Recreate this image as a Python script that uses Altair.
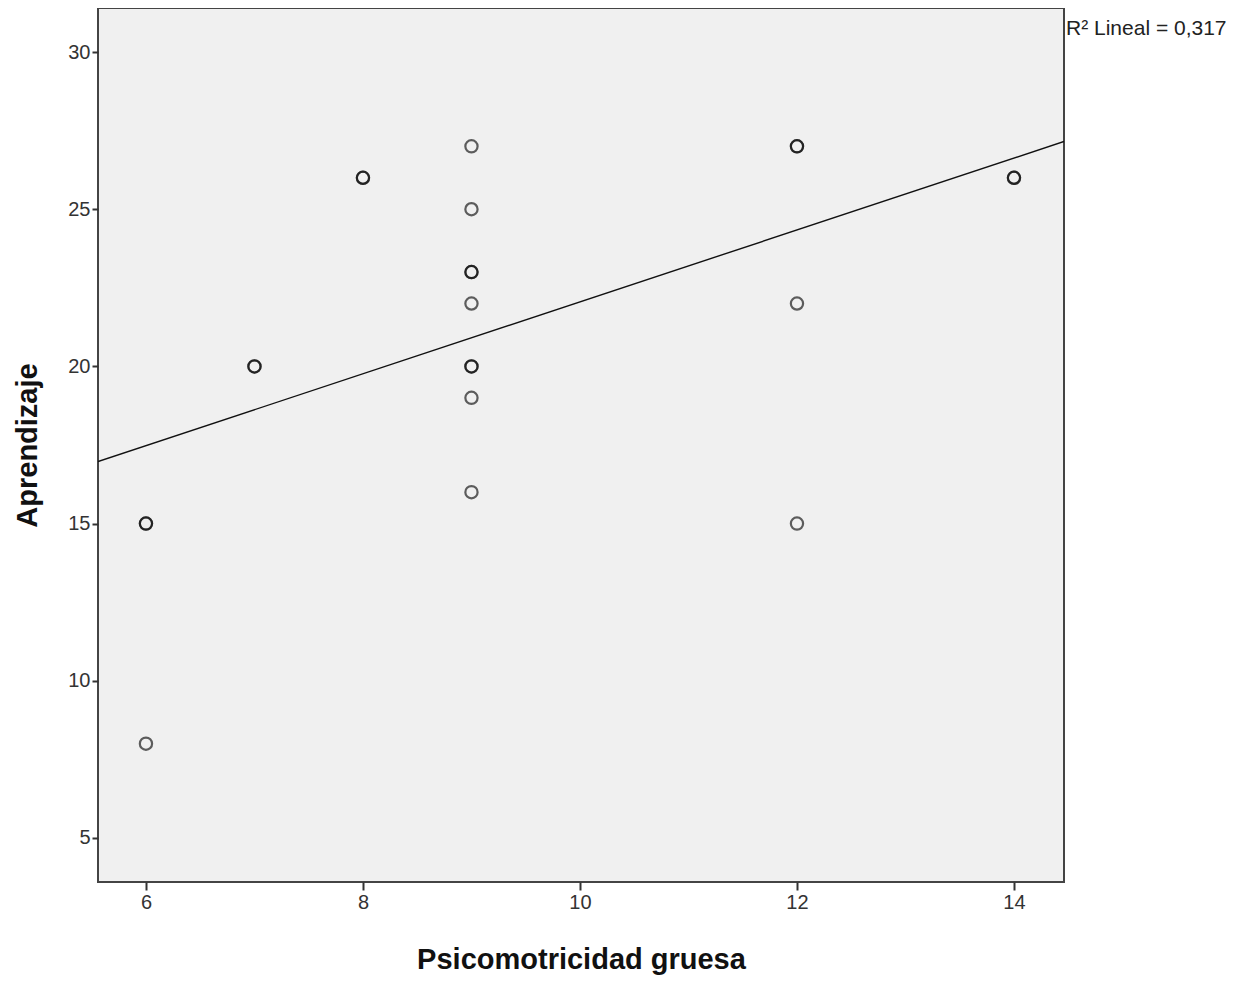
import altair as alt
import pandas as pd

# Psicomotricidad gruesa (x) and Aprendizaje (y); darker circles are repeated cases
psico = [6, 6, 6, 7, 7, 8, 8, 9, 9, 9, 9, 9, 9, 9, 9, 9, 12, 12, 12, 12, 14, 14]
aprend = [15, 15, 8, 20, 20, 26, 26, 27, 25, 23, 23, 22, 20, 20, 19, 16, 27, 27, 22, 15, 26, 26]

x_ticks = [6, 8, 10, 12, 14]
y_ticks = [5, 10, 15, 20, 25, 30]
x_domain = [5.558, 14.461]
y_domain = [3.60, 31.40]
r2_label = "R\u00b2 Lineal = 0,317"

df = pd.DataFrame({"x": psico, "y": aprend})

font = "Liberation Sans"

xs = alt.Scale(domain=x_domain, nice=False, zero=False)
ys = alt.Scale(domain=y_domain, nice=False, zero=False)

x_axis = alt.Axis(
    values=x_ticks, format="d", title="Psicomotricidad gruesa", grid=False, domain=False,
    tickSize=8, tickWidth=2, tickColor="#333", labelFontSize=20, labelColor="#333",
    labelFont=font, labelPadding=2, titleFont=font, titleFontSize=29,
    titleFontWeight="bold", titleColor="#111", titlePadding=33,
)
y_axis = alt.Axis(
    values=y_ticks, format="d", title="Aprendizaje", grid=False, domain=False,
    tickSize=6, tickWidth=2, tickColor="#333", labelFontSize=20, labelColor="#333",
    labelFont=font, labelPadding=2, titleFont=font, titleFontSize=29,
    titleFontWeight="bold", titleColor="#111", titlePadding=25,
)

base = alt.Chart(df)

points = base.mark_point(
    shape="circle", filled=False, size=150, stroke="#000",
    strokeWidth=2.2, strokeOpacity=0.88,
).encode(
    x=alt.X("x:Q", scale=xs, axis=x_axis),
    y=alt.Y("y:Q", scale=ys, axis=y_axis),
)

line = base.transform_regression(
    "x", "y", extent=x_domain
).mark_line(color="#111", strokeWidth=1.4, clip=True).encode(
    x=alt.X("x:Q", scale=xs),
    y=alt.Y("y:Q", scale=ys),
)

label = alt.Chart(pd.DataFrame({"t": [r2_label]})).mark_text(
    align="left", baseline="middle", fontSize=21, font=font, color="#222"
).encode(
    text="t:N", x=alt.value(968), y=alt.value(21)
)

chart = alt.layer(line, points, label).properties(
    width=966, height=874,
    padding={"left": 90, "top": 0, "right": 168, "bottom": 99},
    autosize=alt.AutoSizeParams(type="none"),
).configure_view(
    fill="#f0f0f0", stroke="#444", strokeWidth=2
)

chart.save("out.html", embed_options={"renderer": "svg", "actions": False})
